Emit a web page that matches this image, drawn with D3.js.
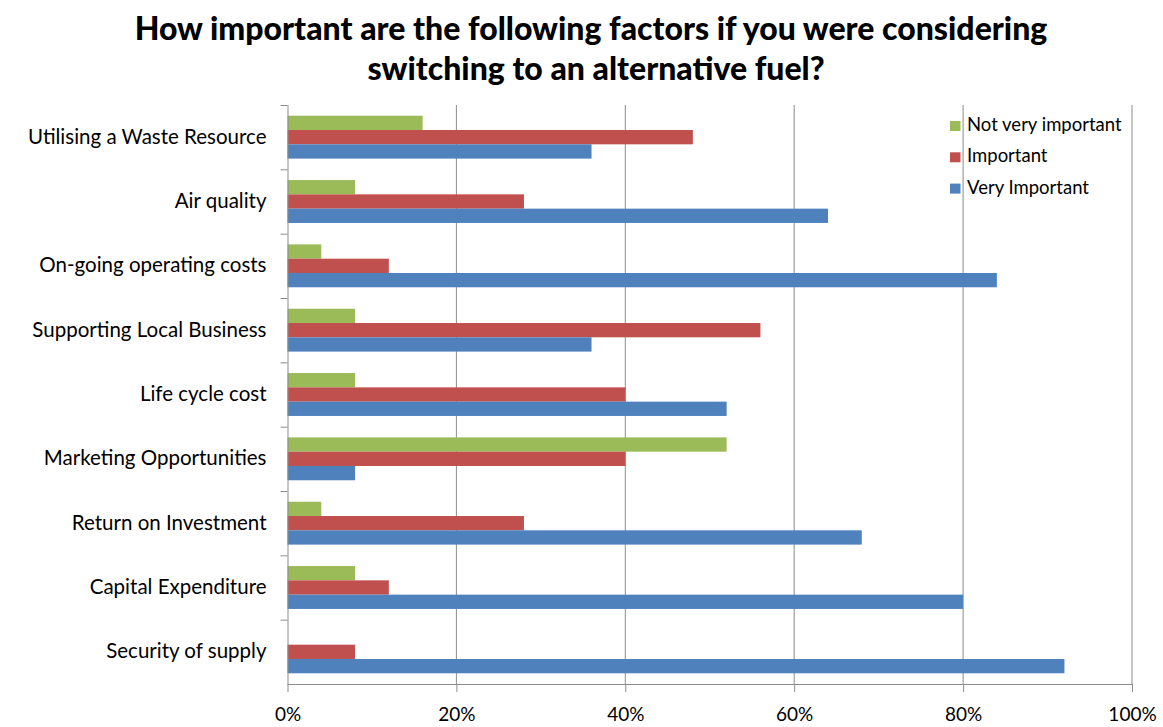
<!DOCTYPE html>
<html><head><meta charset="utf-8">
<script src="https://cdn.jsdelivr.net/npm/d3@7"></script>
<style>body{margin:0;background:#fff}svg{display:block}</style>
</head><body><svg id="c" width="1163" height="727"></svg>
<script>
const categories = ["Utilising a Waste Resource","Air quality","On-going operating costs","Supporting Local Business","Life cycle cost","Marketing Opportunities","Return on Investment","Capital Expenditure","Security of supply"];
const seriesNames = ["Not very important","Important","Very Important"];
const notVeryImportant = [16,8,4,8,8,52,4,8,0];
const important = [48,28,12,56,40,40,28,12,8];
const veryImportant = [36,64,84,36,52,8,68,80,92];
const xTicks = [0,20,40,60,80,100];
const colors = ["#9BBB59","#C0504D","#4F81BD"];
const seriesValues = [notVeryImportant, important, veryImportant];

const svg = d3.select("#c");
const font = "Lato, 'Open Sans', sans-serif";
const pL = 287.5, pR = 1132, pT = 105, pB = 684;
const x = d3.scaleLinear().domain([0,100]).range([pL,pR]);
const y = d3.scaleBand().domain(categories).range([pT,pB]).paddingInner(0).paddingOuter(0);
const inner = d3.scaleBand().domain(seriesNames).range([0,y.bandwidth()]).paddingInner(0).paddingOuter(0.75);

// title
svg.append("text").attr("x",591).attr("y",40).attr("text-anchor","middle")
  .style("font-family",font).style("font-weight","900").style("font-size","32px").attr("fill","#000")
  .text("How important are the following  factors if you were considering");
svg.append("text").attr("x",596).attr("y",80).attr("text-anchor","middle")
  .style("font-family",font).style("font-weight","900").style("font-size","32px").attr("fill","#000")
  .text("switching to an alternative fuel?");

// gridlines
svg.append("g").selectAll("line").data(xTicks.slice(1)).join("line")
  .attr("x1",d=>x(d)).attr("x2",d=>x(d)).attr("y1",pT).attr("y2",pB)
  .attr("stroke","#8c8c8c").attr("stroke-width",1);

// bars
seriesNames.forEach((s,i)=>{
  svg.append("g").selectAll("rect").data(categories).join("rect")
    .attr("x",x(0)).attr("y",c=>y(c)+inner(s))
    .attr("width",(c,j)=>x(seriesValues[i][j])-x(0))
    .attr("height",inner.bandwidth()).attr("fill",colors[i]);
});

// x axis
const xa = svg.append("g").attr("transform",`translate(0,${pB})`)
  .call(d3.axisBottom(x).tickValues(xTicks).tickFormat(d=>d+"%").tickSize(8).tickPadding(16));
xa.select(".domain").attr("stroke","#8c8c8c").attr("d",`M${pL},0.5H${pR}`);
xa.selectAll(".tick line").attr("stroke","#8c8c8c");
xa.selectAll(".tick text").style("font-family",font).style("font-size","19px").attr("fill","#000");

// y axis
const ya = svg.append("g").attr("transform",`translate(${pL},0)`)
  .call(d3.axisLeft(y).tickSize(0).tickPadding(21));
ya.select(".domain").attr("stroke","#8c8c8c").attr("d",`M0.5,${pT}V${pB}`);
ya.selectAll(".tick text").style("font-family",font).style("font-size","20.5px").attr("fill","#000");
svg.append("g").selectAll("line").data(categories).join("line")
  .attr("x1",pL-7).attr("x2",pL).attr("y1",c=>y(c)+0.5).attr("y2",c=>y(c)+0.5)
  .attr("stroke","#8c8c8c");

// legend
const lg = svg.append("g");
seriesNames.forEach((s,i)=>{
  const by = 131 + i*31.3;
  lg.append("rect").attr("x",950).attr("y",by-10).attr("width",10.5).attr("height",10).attr("fill",colors[i]);
  lg.append("text").attr("x",967).attr("y",by)
    .style("font-family",font).style("font-size","18.5px").attr("fill","#000").text(s);
});
</script></body></html>
